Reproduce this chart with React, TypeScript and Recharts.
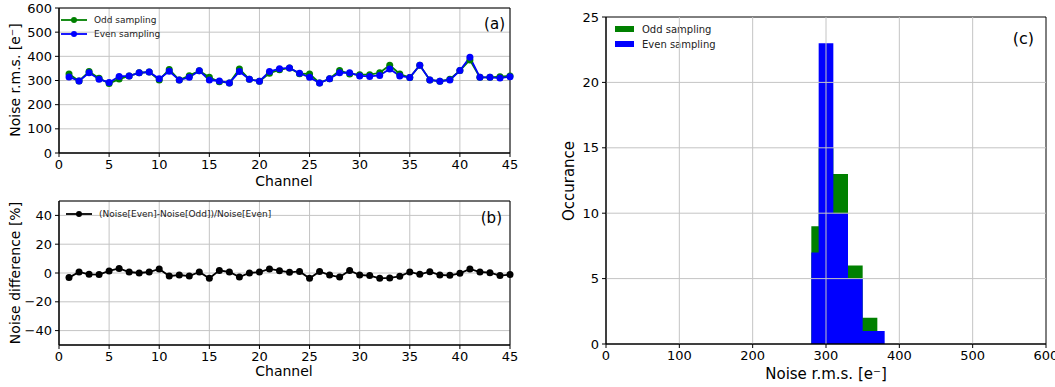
import React from "react";
import {
  Area,
  CartesianGrid,
  ComposedChart,
  Line,
  LineChart,
  ReferenceArea,
  ReferenceLine,
  XAxis,
  YAxis,
} from "recharts";

// channel numbers 1..45
const channels = [
  1, 2, 3, 4, 5, 6, 7, 8, 9, 10, 11, 12, 13, 14, 15, 16, 17, 18, 19, 20, 21, 22,
  23, 24, 25, 26, 27, 28, 29, 30, 31, 32, 33, 34, 35, 36, 37, 38, 39, 40, 41, 42,
  43, 44, 45,
];

const oddNoise = [
  327, 298, 337, 309, 288, 306, 319, 332, 335, 302, 346, 302, 320, 340, 313, 295,
  290, 348, 305, 297, 330, 344, 352, 328, 327, 290, 307, 341, 327, 324, 324, 332,
  363, 327, 312, 363, 302, 297, 305, 341, 385, 313, 313, 316, 319,
];

const evenNoise = [
  315, 298, 332, 305, 292, 317, 319, 332, 335, 307, 338, 302, 313, 340, 302, 298,
  290, 337, 305, 297, 337, 349, 352, 330, 313, 290, 307, 332, 332, 319, 317, 321,
  348, 319, 312, 363, 302, 297, 302, 341, 396, 313, 313, 310, 316,
];

const noiseDiff = [
  -3.2, 0.7, -0.9, -1.1, 1.4, 3.2, 0.7, 0, 0.7, 2.8, -2.1, -1.4, -2.1, 0.7, -3.7,
  1.8, 0.7, -2.8, 0, 0.7, 2.8, 1.6, 0.5, 1.1, -3.7, 1.1, -1.4, -2.8, 1.8, -1.4,
  -1.8, -3.7, -3.4, -2.3, 0.7, -0.9, 0.9, -1.4, -1.6, -0.2, 2.8, 0.7, 0.2, -1.8,
  -1.1,
];

// histogram bins (left edges) and counts
const binEdges = [280, 290, 310, 330, 350, 370, 380];
const oddCounts = [9, 15, 13, 6, 2, 0, 0];
const evenCounts = [7, 23, 10, 5, 1, 1, 0];

const channelTicks = [0, 5, 10, 15, 20, 25, 30, 35, 40, 45];
const noiseTicks = [0, 100, 200, 300, 400, 500, 600];
const diffTicks = [-40, -20, 0, 20, 40];
const countTicks = [0, 5, 10, 15, 20, 25];

const GREEN = "#008000";
const BLUE = "#0000ff";
const GRID = "#c4c4c4";
const FONT = "DejaVu Sans";

const noiseData = channels.map((ch, i) => ({
  ch,
  odd: oddNoise[i],
  even: evenNoise[i],
}));
const diffData = channels.map((ch, i) => ({ ch, diff: noiseDiff[i] }));
const histData = binEdges.map((edge, i) => ({
  edge,
  odd: oddCounts[i],
  even: evenCounts[i],
}));

const tickStyle = { fill: "#000", fontSize: 13, fontFamily: FONT };
const minus = (v: number) => String(v).replace("-", "\u2212");

function LineKey({ x, y, color, label }: { x: number; y: number; color: string; label: string }) {
  return (
    <g>
      <line x1={x} x2={x + 26} y1={y} y2={y} stroke={color} strokeWidth={1.8} />
      <circle cx={x + 13} cy={y} r={3} fill={color} />
      <text x={x + 33} y={y} dominantBaseline="central" fontSize={9} fontFamily={FONT} fill="#222">
        {label}
      </text>
    </g>
  );
}

function VTitle({ x, y, text, size }: { x: number; y: number; text: string; size: number }) {
  return (
    <text
      transform={`translate(${x},${y}) rotate(-90)`}
      textAnchor="middle"
      dominantBaseline="central"
      fontSize={size}
      fontFamily={FONT}
      fill="#000"
    >
      {text}
    </text>
  );
}

export default function App() {
  return (
    <div
      style={{
        position: "absolute",
        left: 0,
        top: 0,
        width: 1055,
        height: 387,
        background: "#fff",
        overflow: "hidden",
        fontFamily: FONT,
      }}
    >
      {/* (a) noise per channel */}
      <div style={{ position: "absolute", left: 0, top: 0 }}>
        <LineChart width={520} height={195} data={noiseData} margin={{ top: 8, right: 10, left: 0, bottom: 0 }}>
          <CartesianGrid stroke={GRID} />
          <XAxis
            dataKey="ch"
            type="number"
            domain={[0, 45]}
            ticks={channelTicks}
            interval={0}
            height={42}
            tickSize={4}
            tickMargin={3}
            tick={tickStyle}
            stroke="#000"
          />
          <YAxis
            type="number"
            domain={[0, 600]}
            ticks={noiseTicks}
            interval={0}
            width={59}
            tickSize={4}
            tickMargin={3}
            tick={tickStyle}
            stroke="#000"
          />
          <ReferenceArea x1={0} x2={45} y1={0} y2={600} fill="none" stroke="#000" strokeWidth={1} />
          <Line
            dataKey="odd"
            stroke={GREEN}
            strokeWidth={1.8}
            dot={{ r: 3.5, fill: GREEN, stroke: GREEN, strokeWidth: 0 }}
            activeDot={false}
            isAnimationActive={false}
          />
          <Line
            dataKey="even"
            stroke={BLUE}
            strokeWidth={1.8}
            dot={{ r: 3.5, fill: BLUE, stroke: BLUE, strokeWidth: 0 }}
            activeDot={false}
            isAnimationActive={false}
          />
          <LineKey x={61} y={20} color={GREEN} label="Odd sampling" />
          <LineKey x={61} y={34} color={BLUE} label="Even sampling" />
          <text x={505} y={29} textAnchor="end" fontSize={15} fontFamily={FONT} fill="#000">
            (a)
          </text>
          <VTitle x={15} y={80} text="Noise r.m.s. [e⁻]" size={14} />
          <text x={284} y={186} textAnchor="middle" fontSize={14} fontFamily={FONT} fill="#000">
            Channel
          </text>
        </LineChart>
      </div>

      {/* (b) relative difference */}
      <div style={{ position: "absolute", left: 0, top: 190 }}>
        <LineChart width={520} height={197} data={diffData} margin={{ top: 11, right: 10, left: 0, bottom: 0 }}>
          <CartesianGrid stroke={GRID} />
          <XAxis
            dataKey="ch"
            type="number"
            domain={[0, 45]}
            ticks={channelTicks}
            interval={0}
            height={42}
            tickSize={4}
            tickMargin={3}
            tick={tickStyle}
            stroke="#000"
          />
          <YAxis
            type="number"
            domain={[-50, 50]}
            ticks={diffTicks}
            interval={0}
            width={59}
            tickSize={4}
            tickMargin={3}
            tick={tickStyle}
            tickFormatter={minus}
            stroke="#000"
          />
          <ReferenceArea x1={0} x2={45} y1={-50} y2={50} fill="none" stroke="#000" strokeWidth={1} />
          <Line
            dataKey="diff"
            stroke="#000"
            strokeWidth={1.8}
            dot={{ r: 3.5, fill: "#000", stroke: "#000", strokeWidth: 0 }}
            activeDot={false}
            isAnimationActive={false}
          />
          <LineKey x={66} y={24} color="#000" label="(Noise[Even]-Noise[Odd])/Noise[Even]" />
          <text x={502} y={33} textAnchor="end" fontSize={15} fontFamily={FONT} fill="#000">
            (b)
          </text>
          <VTitle x={15} y={83} text="Noise difference [%]" size={14} />
          <text x={284} y={186} textAnchor="middle" fontSize={14} fontFamily={FONT} fill="#000">
            Channel
          </text>
        </LineChart>
      </div>

      {/* (c) histogram */}
      <div style={{ position: "absolute", left: 560, top: 0 }}>
        <ComposedChart width={495} height={387} data={histData} margin={{ top: 17, right: 9, left: 0, bottom: 0 }}>
          <XAxis
            dataKey="edge"
            type="number"
            domain={[0, 600]}
            ticks={noiseTicks}
            interval={0}
            height={43}
            tickSize={4}
            tickMargin={3}
            tick={tickStyle}
            stroke="#000"
          />
          <YAxis
            type="number"
            domain={[0, 25]}
            ticks={countTicks}
            interval={0}
            width={46}
            tickSize={4}
            tickMargin={3}
            tick={tickStyle}
            stroke="#000"
          />
          <Area
            type="stepAfter"
            dataKey="odd"
            fill={GREEN}
            fillOpacity={1}
            stroke="none"
            activeDot={false}
            isAnimationActive={false}
          />
          <Area
            type="stepAfter"
            dataKey="even"
            fill={BLUE}
            fillOpacity={1}
            stroke="none"
            activeDot={false}
            isAnimationActive={false}
          />
          {noiseTicks.slice(1, -1).map((t) => (
            <ReferenceLine key={`x${t}`} x={t} stroke={GRID} strokeWidth={1} />
          ))}
          {countTicks.slice(1, -1).map((t) => (
            <ReferenceLine key={`y${t}`} y={t} stroke={GRID} strokeWidth={1} />
          ))}
          <ReferenceArea x1={0} x2={600} y1={0} y2={25} fill="none" stroke="#000" strokeWidth={1} />
          <rect x={55} y={26} width={19} height={6} fill={GREEN} />
          <text x={82} y={29} dominantBaseline="central" fontSize={10} fontFamily={FONT} fill="#222">
            Odd sampling
          </text>
          <rect x={55} y={41} width={19} height={6} fill={BLUE} />
          <text x={82} y={44} dominantBaseline="central" fontSize={10} fontFamily={FONT} fill="#222">
            Even sampling
          </text>
          <text x={474} y={44} textAnchor="end" fontSize={16} fontFamily={FONT} fill="#000">
            (c)
          </text>
          <VTitle x={9} y={181} text="Occurance" size={15} />
          <text x={266} y={379} textAnchor="middle" fontSize={15} fontFamily={FONT} fill="#000">
            Noise r.m.s. [e⁻]
          </text>
        </ComposedChart>
      </div>
    </div>
  );
}
